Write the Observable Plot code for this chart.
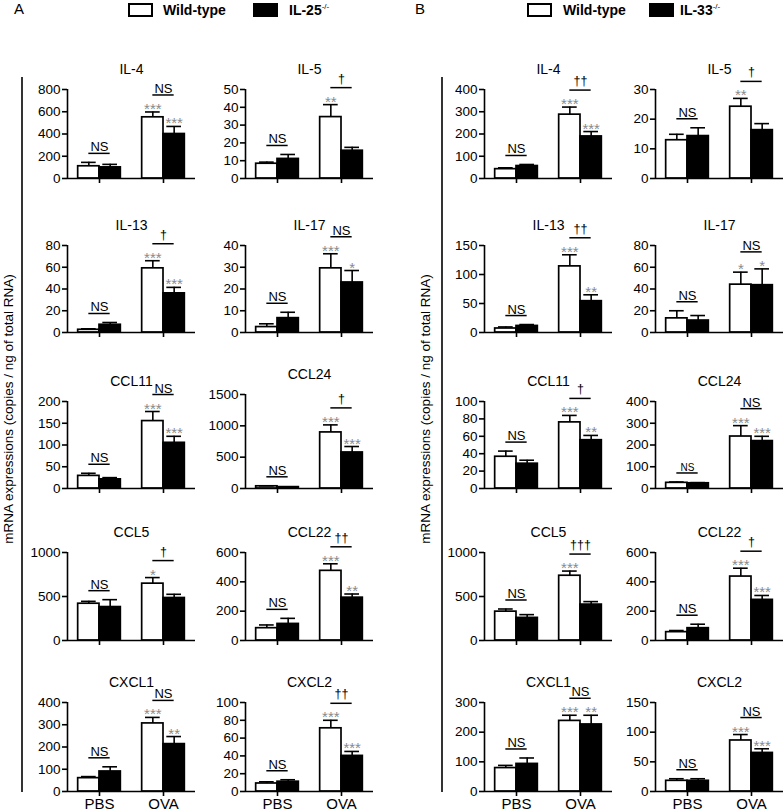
<!DOCTYPE html>
<html><head><meta charset="utf-8">
<script src="https://cdn.jsdelivr.net/npm/d3@7"></script>
<script src="https://cdn.jsdelivr.net/npm/@observablehq/plot@0.6"></script>
<style>
body{margin:0;background:#fff;}
#fig{position:relative;width:784px;height:811px;overflow:hidden;background:#fff;font-family:"Liberation Sans",Arial,sans-serif;}
</style></head><body><div id="fig"></div>
<script>
// ---------- shared labels ----------
const stims = ["PBS", "OVA"];
const genes = ["IL-4", "IL-5", "IL-13", "IL-17", "CCL11", "CCL24", "CCL5", "CCL22", "CXCL1", "CXCL2"];
const yLabel = "mRNA expressions (copies / ng of total RNA)";

// ---------- Panel A : IL-25 knockout ----------
const letterA = "A";
const genotypesA = ["Wild-type", "IL-25"];
const yMaxA = [800, 50, 80, 40, 200, 1500, 1000, 600, 400, 100];
const yStepA = [200, 10, 20, 10, 50, 500, 500, 200, 100, 20];
// order: PBS-WT, PBS-KO, OVA-WT, OVA-KO
const meanA = [[110, 100, 550, 400], [8.3, 11, 34.5, 15.6], [2.5, 7.1, 59, 36], [2.5, 6.6, 29.5, 23],
  [29, 21, 155, 105], [35, 22, 895, 575], [418, 380, 646, 483], [84, 113, 475, 292], [60, 90, 306, 213], [9, 11, 71, 40]];
const semA = [[35, 27, 48, 68], [0.9, 2.5, 7, 1.9], [0.9, 2.1, 7, 5.5], [1.5, 2.7, 6.7, 5.5],
  [6, 4, 22, 15], [8, 5, 120, 95], [27, 84, 69, 42], [22, 38, 48, 25], [7, 21, 27, 34], [1.9, 2.2, 9, 5]];
const sigPbsA = ["NS", "NS", "NS", "NS", "NS", "NS", "NS", "NS", "NS", "NS"];
const sigOvaA = ["NS", "†", "†", "NS", "NS", "†", "†", "††", "NS", "††"];
const starsWtA = ["***", "**", "***", "***", "***", "***", "*", "***", "***", "***"];
const starsKoA = ["***", "", "***", "*", "***", "***", "", "**", "**", "***"];

// ---------- Panel B : IL-33 knockout ----------
const letterB = "B";
const genotypesB = ["Wild-type", "IL-33"];
const yMaxB = [400, 30, 150, 80, 100, 400, 1000, 600, 300, 150];
const yStepB = [100, 10, 50, 20, 20, 100, 500, 200, 100, 50];
const meanB = [[42, 56, 287, 189], [12.9, 14.3, 24.2, 16.3], [6.9, 11.3, 114, 54], [13, 11, 44, 43.5],
  [36.5, 28.5, 76, 55.5], [26, 24, 239, 218], [328, 257, 736, 408], [57, 84, 436, 277], [79, 93, 238, 226], [18, 18, 86, 65]];
const semB = [[6, 7, 34, 22], [2, 2.8, 2.8, 2.2], [2.7, 2.4, 20, 11], [7, 4.6, 11.5, 15],
  [6.5, 4, 8, 5.5], [4, 3, 50, 22], [30, 37, 53, 34], [11, 27, 57, 30], [9, 20, 19, 31], [3.5, 3.5, 10, 7]];
const sigPbsB = ["NS", "NS", "NS", "NS", "NS", "NS", "NS", "NS", "NS", "NS"];
const sigOvaB = ["††", "†", "††", "NS", "†", "NS", "†††", "†", "NS", "NS"];
const starsWtB = ["***", "**", "***", "*", "***", "***", "***", "***", "***", "***"];
const starsKoB = ["***", "", "**", "*", "**", "***", "", "***", "**", "***"];

// ---------- layout ----------
const FONT = '"Liberation Sans", Arial, Helvetica, sans-serif';
const rowTop = [89, 245, 401, 552, 702];
const rowBase = [178, 332, 488, 640, 791];
const mL = 48, mR = 8, mT = 56, mB = 26, plotW = 128;
const fig = document.getElementById("fig");

function panel(g, genotypes, yMax, yStep, mean, sem, sigPbs, sigOva, starsWt, starsKo, axisLeft, topPx, basePx, bottomRow, smallPbs) {
  const bars = [];
  stims.forEach((s, i) => genotypes.forEach((gt, j) => {
    const k = i * 2 + j;
    bars.push({si: i, gj: j, geno: gt, mean: mean[k], hi: mean[k] + sem[k],
      stars: i === 1 ? (j ? starsKo : starsWt) : ""});
  }));
  const groups = stims.map((s, i) => ({si: i, top: Math.max(bars[i * 2].hi, bars[i * 2 + 1].hi),
    sig: i === 0 ? sigPbs : sigOva}));
  const ova = groups.slice(1);
  const center = d => d.si + (d.gj - 0.5) / 3;
  const plotH = basePx - topPx;
  const svg = Plot.plot({
    width: mL + plotW + mR, height: mT + plotH + mB,
    marginLeft: mL, marginRight: mR, marginTop: mT, marginBottom: mB,
    x: {domain: [-0.5, 1.5]},
    y: {domain: [0, yMax]},
    color: {domain: genotypes, range: ["#ffffff", "#000000"]},
    style: `background: transparent; overflow: visible; max-width: none; font-family: ${FONT}; color: #000;`,
    marks: [
      Plot.rectY(bars, {x1: d => d.si + (d.gj - 1) / 3, x2: d => d.si + d.gj / 3, y1: 0, y2: "mean",
        fill: "geno", stroke: "#000", strokeWidth: 1.7}),
      Plot.ruleX(bars, {x: center, y1: "mean", y2: "hi", strokeWidth: 1.6}),
      Plot.ruleY(bars, {y: "hi", x1: d => center(d) - 0.115, x2: d => center(d) + 0.115, strokeWidth: 1.6}),
      Plot.ruleX([-0.5], {y1: 0, y2: yMax, strokeWidth: 1.6}),
      Plot.ruleY([0], {strokeWidth: 1.6}),
      Plot.axisY({ticks: d3.range(0, yMax + yStep / 2, yStep), tickFormat: d => String(d), tickSize: 5,
        tickPadding: 2, fontSize: 13.5, label: null, strokeWidth: 1.6}),
      Plot.axisX({ticks: [0, 1], tickFormat: i => bottomRow ? stims[i] : "", tickSize: 5, tickPadding: 2,
        fontSize: 15, label: null, strokeWidth: 1.6}),
      // significance brackets
      Plot.ruleY(groups.slice(0, 1), {y: "top", x1: d => d.si - 1 / 6, x2: d => d.si + 1 / 6, dy: -9, strokeWidth: 1.5}),
      Plot.text(groups.slice(0, 1), {x: "si", y: "top", text: "sig", dy: -11, lineAnchor: "bottom",
        fontSize: smallPbs ? 10 : 13}),
      Plot.ruleY(ova, {y: "top", x1: d => d.si - 1 / 6, x2: d => d.si + 1 / 6, dy: -17, strokeWidth: 1.5}),
      Plot.text(ova.filter(d => d.sig === "NS"), {x: "si", y: "top", text: "sig", dy: -19, lineAnchor: "bottom", fontSize: 13}),
      Plot.text(ova.filter(d => d.sig !== "NS"), {x: "si", y: "top", text: "sig", dy: -22, lineAnchor: "bottom", fontSize: 12.5}),
      Plot.text(bars.filter(d => d.stars), {x: center, y: "hi", text: "stars", dy: 2, lineAnchor: "bottom",
        fontSize: 15, fill: "#8a8a8a"}),
      Plot.text([g], {text: d => d, frameAnchor: "top", dy: -25, fontSize: 14})
    ]
  });
  const wrap = document.createElement("div");
  wrap.style.cssText = `position:absolute;left:${axisLeft - mL}px;top:${topPx - mT}px;`;
  wrap.appendChild(svg);
  fig.appendChild(wrap);
}

function half(letter, genotypes, yMax, yStep, mean, sem, sigPbs, sigOva, starsWt, starsKo, colAxis, topOverride, smallPbsIdx) {
  genes.forEach((g, k) => {
    const row = Math.floor(k / 2), col = k % 2;
    const top = topOverride[k] !== undefined ? topOverride[k] : rowTop[row];
    panel(g, genotypes, yMax[k], yStep[k], mean[k], sem[k], sigPbs[k], sigOva[k], starsWt[k], starsKo[k],
      colAxis[col], top, rowBase[row], row === 4, k === smallPbsIdx);
  });
}

half(letterA, genotypesA, yMaxA, yStepA, meanA, semA, sigPbsA, sigOvaA, starsWtA, starsKoA, [67, 245], {5: 394}, -1);
half(letterB, genotypesB, yMaxB, yStepB, meanB, semB, sigPbsB, sigOvaB, starsWtB, starsKoB, [484, 655], {}, 5);

// ---------- decorations: letters, legends, y labels, brackets ----------
const deco = d3.select(fig).append("svg")
  .attr("width", 784).attr("height", 811)
  .style("position", "absolute").style("left", 0).style("top", 0)
  .style("font-family", FONT).style("pointer-events", "none");

function decorate(letter, genotypes, x0, boxW, txt1, box2, txt2, ylabX, lineX) {
  deco.append("text").attr("x", x0).attr("y", 14).attr("font-size", 15).text(letter);
  deco.append("rect").attr("x", boxW).attr("y", 4).attr("width", 23).attr("height", 12)
    .attr("fill", "#fff").attr("stroke", "#000").attr("stroke-width", 2);
  deco.append("text").attr("x", txt1).attr("y", 15).attr("font-size", 14).attr("font-weight", "bold").text(genotypes[0]);
  deco.append("rect").attr("x", box2).attr("y", 3).attr("width", 25).attr("height", 14).attr("fill", "#000");
  const t = deco.append("text").attr("x", txt2).attr("y", 15).attr("font-size", 14).attr("font-weight", "bold");
  t.append("tspan").text(genotypes[1]);
  t.append("tspan").attr("dy", -6).attr("font-size", 8).attr("font-weight", "normal").text("-/-");
  deco.append("text").attr("transform", `translate(${ylabX},409) rotate(-90)`)
    .attr("text-anchor", "middle").attr("dominant-baseline", "central").attr("font-size", 13.5).text(yLabel);
  deco.append("line").attr("x1", lineX).attr("x2", lineX).attr("y1", 77).attr("y2", 792)
    .attr("stroke", "#000").attr("stroke-width", 1.6);
}
decorate(letterA, genotypesA, 14, 129, 163, 253, 289, 8, 22);
decorate(letterB, genotypesB, 415, 528, 563, 649, 680, 425, 442);
</script></body></html>
